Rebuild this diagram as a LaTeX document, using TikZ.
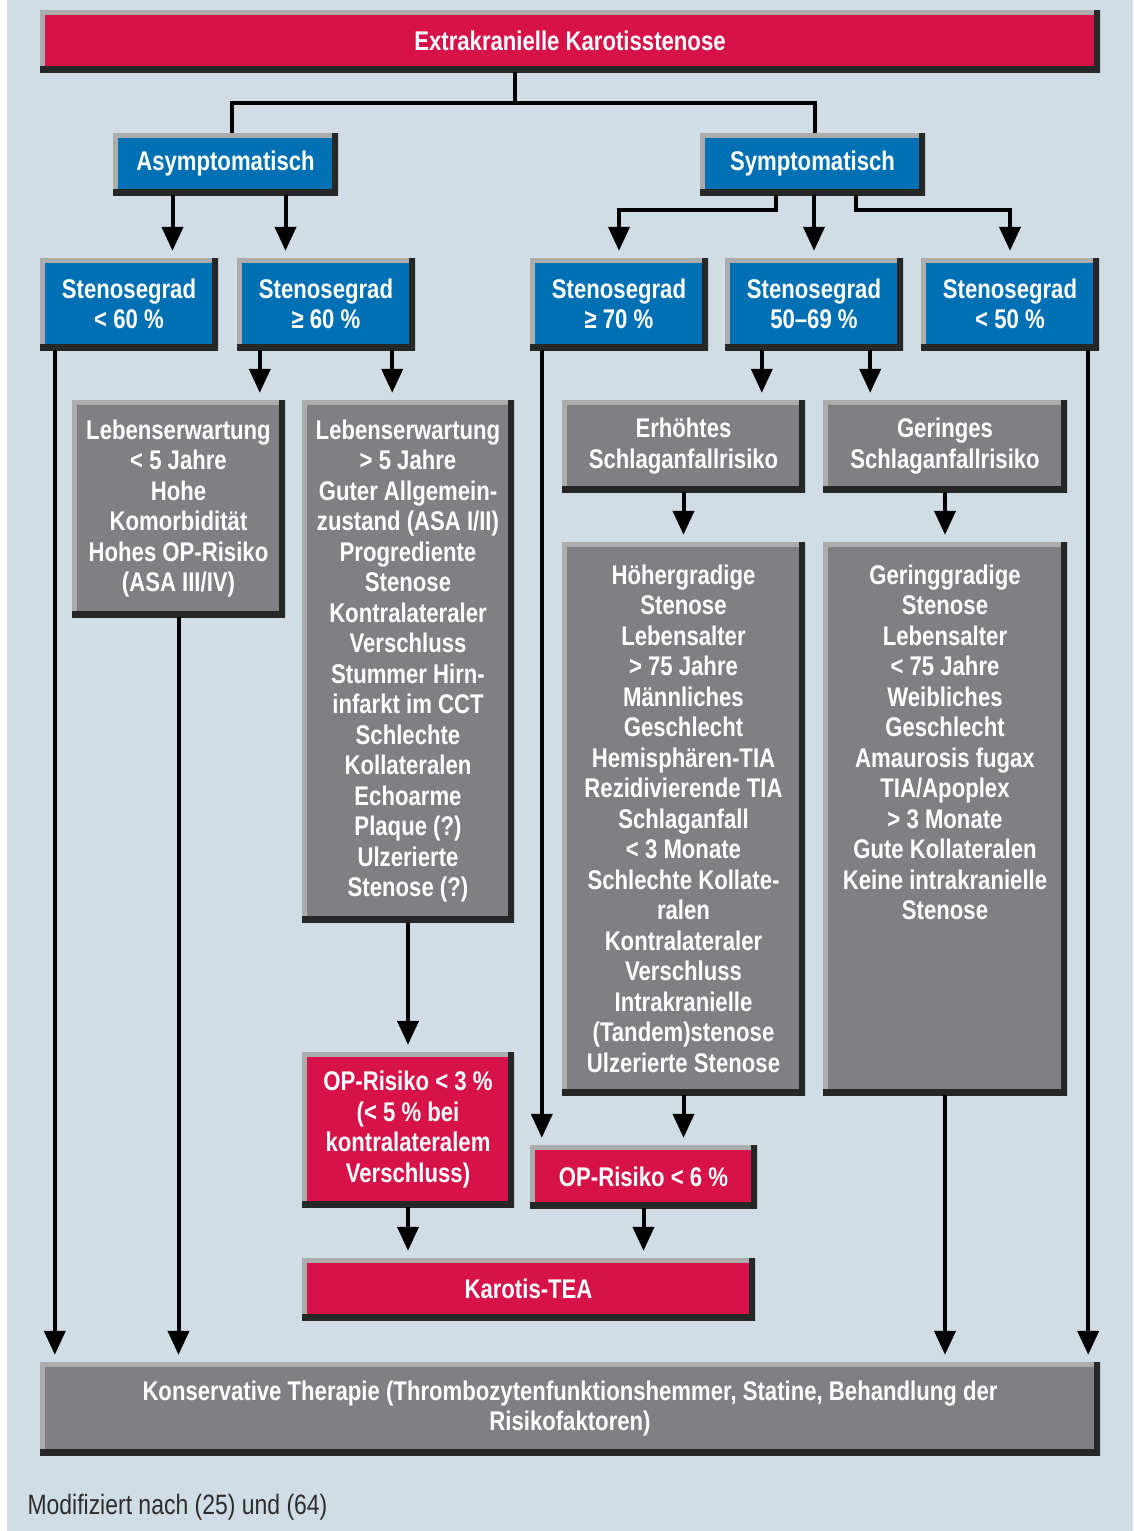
\documentclass[tikz,border=0pt]{standalone}
\usepackage{fontspec}
\setmainfont{Liberation Sans}[FakeStretch=0.82]
\usetikzlibrary{arrows.meta}

\definecolor{kred}{RGB}{214,18,72}
\definecolor{kblue}{RGB}{0,112,180}
\definecolor{kgray}{RGB}{128,128,132}
\definecolor{bgcol}{RGB}{208,221,229}
\definecolor{bevlight}{RGB}{172,172,172}
\definecolor{bevdark}{RGB}{38,40,40}
\definecolor{footcol}{RGB}{45,45,45}

\begin{document}
\begin{tikzpicture}[x=1pt, y=-1pt,
  box/.style={inner sep=0pt, text=white, align=center,
    font=\fontsize{27}{30.5}\selectfont\bfseries,
    path picture={
      \draw[line width=10pt, bevlight] (path picture bounding box.south west) |- (path picture bounding box.north east);
      \draw[line width=12pt, bevdark] (path picture bounding box.south west) -| (path picture bounding box.north east);
    }},
  redbox/.style={box, fill=kred},
  bluebox/.style={box, fill=kblue},
  graybox/.style={box, fill=kgray},
  line/.style={line width=4pt, black},
  arr/.style={line, -{Triangle[width=21pt,length=24pt]}, shorten >=7pt}]

  % --- 1. Hintergrund ---
  \useasboundingbox (0,0) rectangle (1133,1531);
  \fill[bgcol] (0,0) rectangle (1133,1531);
  \fill[white] (0,0) rectangle (7,1531);

  % --- 2. Kopf und Verzweigung ---
  \node[redbox, minimum width=1060pt, minimum height=62pt] (titel) at (570,41) {Extrakranielle Karotisstenose};
  \node[bluebox, minimum width=225pt, minimum height=62pt] (asym) at (225.5,164) {Asymptomatisch};
  \node[bluebox, minimum width=225pt, minimum height=62pt] (sym) at (812.5,164) {Symptomatisch};

  % --- 3. Stenosegrade ---
  \node[bluebox, minimum width=178pt, minimum height=92pt] (s1) at (129,304) {Stenosegrad\\< 60 \%};
  \node[bluebox, minimum width=178pt, minimum height=92pt] (s2) at (326,304) {Stenosegrad\\≥ 60 \%};
  \node[bluebox, minimum width=178pt, minimum height=92pt] (s3) at (619,304) {Stenosegrad\\≥ 70 \%};
  \node[bluebox, minimum width=178pt, minimum height=92pt] (s4) at (814,304) {Stenosegrad\\50–69 \%};
  \node[bluebox, minimum width=178pt, minimum height=92pt] (s5) at (1010,304) {Stenosegrad\\< 50 \%};

  % --- 4. Kriterien ---
  \node[graybox, minimum width=213pt, minimum height=217pt] (leb1) at (178.5,508.5)
    {Lebenserwartung\\< 5 Jahre\\Hohe\\Komorbidität\\Hohes OP-Risiko\\(ASA III/IV)};
  \node[graybox, minimum width=212pt, minimum height=522pt] (leb2) at (408,661)
    {Lebenserwartung\\> 5 Jahre\\Guter Allgemein-\\zustand (ASA I/II)\\Progrediente\\Stenose\\Kontralateraler\\Verschluss\\Stummer Hirn-\\infarkt im CCT\\Schlechte\\Kollateralen\\Echoarme\\Plaque (?)\\Ulzerierte\\Stenose (?)};
  \node[graybox, minimum width=243pt, minimum height=92pt] (erh) at (683.5,446) {Erhöhtes\\Schlaganfallrisiko};
  \node[graybox, minimum width=244pt, minimum height=92pt] (ger) at (945,446) {Geringes\\Schlaganfallrisiko};
  \node[graybox, minimum width=243pt, minimum height=553pt] (hoeh) at (683.5,818.5)
    {Höhergradige\\Stenose\\Lebensalter\\> 75 Jahre\\Männliches\\Geschlecht\\Hemisphären-TIA\\Rezidivierende TIA\\Schlaganfall\\< 3 Monate\\Schlechte Kollate-\\ralen\\Kontralateraler\\Verschluss\\Intrakranielle\\(Tandem)stenose\\Ulzerierte Stenose};
  \node[graybox, minimum width=244pt, minimum height=553pt] (gering) at (945,818.5)
    {Geringgradige\\Stenose\\Lebensalter\\< 75 Jahre\\Weibliches\\Geschlecht\\Amaurosis fugax\\TIA/Apoplex\\> 3 Monate\\Gute Kollateralen\\Keine intrakranielle\\Stenose\\[122pt]\mbox{}};

  % --- 5. OP-Risiko und Therapie ---
  \node[redbox, minimum width=212pt, minimum height=155pt] (op1) at (408,1129.5)
    {OP-Risiko < 3 \%\\(< 5 \% bei\\kontralateralem\\Verschluss)};
  \node[redbox, minimum width=227pt, minimum height=63pt] (op2) at (643.5,1176.5) {OP-Risiko < 6 \%};
  \node[redbox, minimum width=453pt, minimum height=62pt] (tea) at (528.5,1289) {Karotis-TEA};
  \node[graybox, minimum width=1060pt, minimum height=93pt] (kons) at (570,1408.5)
    {Konservative Therapie (Thrombozytenfunktionshemmer, Statine, Behandlung der\\Risikofaktoren)};
  \node[anchor=west, text=footcol, font=\fontsize{28}{32}\selectfont] (quelle) at (24,1507) {Modifiziert nach (25) und (64)};

  % --- 6. Verbindungen ---
  \draw[line] ([xshift=-55]titel.south) -- ++(0,31) -| ([xshift=6]asym.north);
  \draw[line] ([xshift=-55]titel.south) -- ++(0,31) -| ([xshift=2]sym.north);

  \draw[arr] ([xshift=-53]asym.south) -- ([xshift=-53]asym.south |- s1.north);
  \draw[arr] ([xshift=60]asym.south) -- ([xshift=60]asym.south |- s2.north);

  \draw[arr] ([xshift=-37]sym.south) -- ++(0,15) -| (s3.north);
  \draw[arr] (sym.south -| s4.north) -- (s4.north);
  \draw[arr] ([xshift=43]sym.south) -- ++(0,15) -| (s5.north);

  \draw[arr] ([xshift=15]s1.south west) -- ([xshift=15]s1.south west |- kons.north);
  \draw[arr] ([xshift=23]s2.south west) -- ([xshift=23]s2.south west |- leb1.north);
  \draw[arr] ([xshift=-23]s2.south east) -- ([xshift=-23]s2.south east |- leb2.north);
  \draw[arr] (leb1.south) -- (leb1.south |- kons.north);
  \draw[arr] (leb2.south) -- (op1.north);
  \draw[arr] (op1.south) -- (op1.south |- tea.north);

  \draw[arr] ([xshift=12]s3.south west) -- ([xshift=12]s3.south west |- op2.north);
  \draw[arr] ([xshift=37]s4.south west) -- ([xshift=37]s4.south west |- erh.north);
  \draw[arr] ([xshift=-33]s4.south east) -- ([xshift=-33]s4.south east |- ger.north);
  \draw[arr] (erh.south) -- (hoeh.north);
  \draw[arr] (ger.south) -- (gering.north);
  \draw[arr] (hoeh.south) -- (hoeh.south |- op2.north);
  \draw[arr] (op2.south) -- (op2.south |- tea.north);
  \draw[arr] (gering.south) -- (gering.south |- kons.north);
  \draw[arr] ([xshift=-11]s5.south east) -- ([xshift=-11]s5.south east |- kons.north);

\end{tikzpicture}
\end{document}
